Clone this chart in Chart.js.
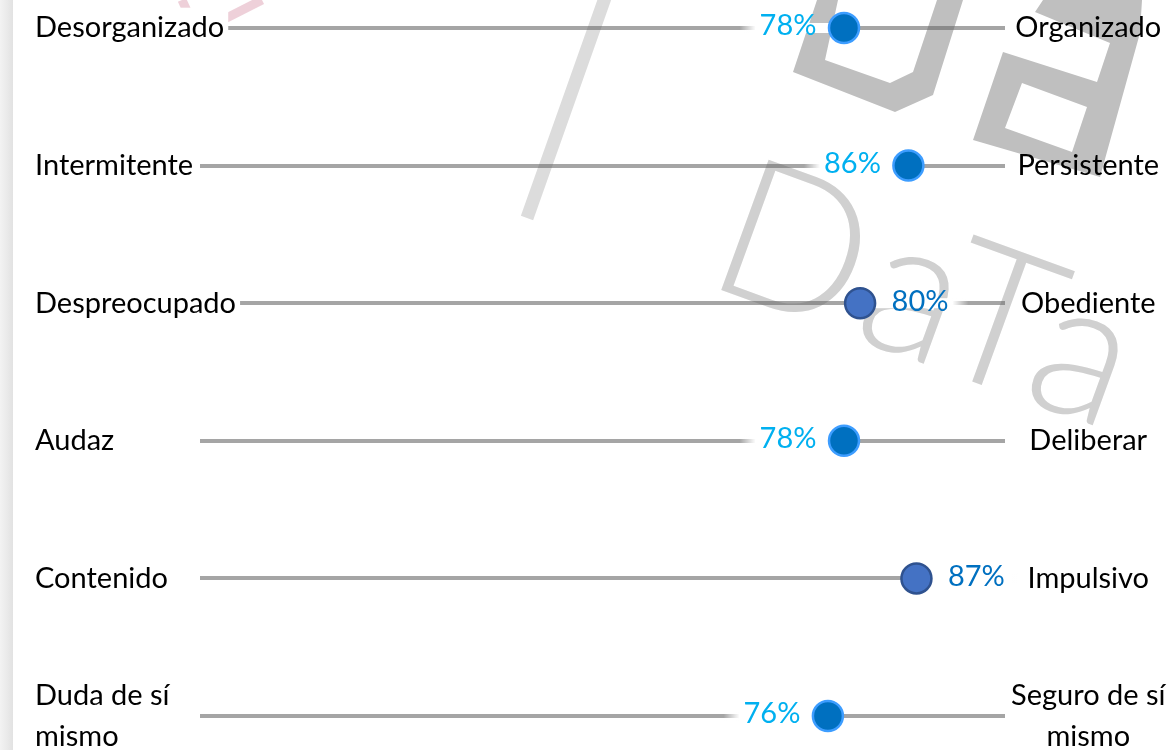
<!DOCTYPE html>
<html>
<head>
<meta charset="utf-8">
<script src="https://cdn.jsdelivr.net/npm/chart.js@4/dist/chart.umd.min.js"></script>
<style>
  html, body { margin: 0; padding: 0; background: #ffffff; overflow: hidden; }
  #wrap { position: relative; width: 1167px; height: 750px; }
  canvas { display: block; }
</style>
</head>
<body>
<div id="wrap"><canvas id="c" width="1167" height="750"></canvas></div>
<script>
// ---------------- data ----------------
const leftLabels  = ['Desorganizado', 'Intermitente', 'Despreocupado', 'Audaz', 'Contenido', ['Duda de sí', 'mismo']];
const rightLabels = ['Organizado', 'Persistente', 'Obediente', 'Deliberar', 'Impulsivo', ['Seguro de sí', 'mismo']];
const values      = [78, 86, 80, 78, 87, 76];

// ---------------- styles ----------------
const labelSide   = ['left', 'left', 'right', 'left', 'right', 'left'];
const dotTheme    = ['light', 'light', 'dark', 'light', 'dark', 'light'];
const THEMES = {
  light: { fill: '#0070C0', border: '#3D9DFF', text: '#00B0F0' },
  dark:  { fill: '#4472C4', border: '#2F528F', text: '#0070C0' }
};
const X_MIN = -2, X_MAX = 98;
const FONT = 'Lato, "Open Sans", sans-serif';
const FONT_SIZE = 29;
const LINE_COLOR = 'rgba(100,100,100,0.58)';

// ---------------- watermark / background ----------------
function poly(ctx, pts) {
  pts.forEach((p, i) => i ? ctx.lineTo(p[0], p[1]) : ctx.moveTo(p[0], p[1]));
  ctx.closePath();
}
const backgroundPlugin = {
  id: 'bg',
  beforeDraw(chart) {
    const ctx = chart.ctx;
    ctx.save();
    // left grey strip
    const g = ctx.createLinearGradient(0, 0, 13, 0);
    g.addColorStop(0, '#f3f3f3');
    g.addColorStop(1, '#e2e2e2');
    ctx.fillStyle = g;
    ctx.fillRect(0, 0, 13, chart.height);

    // pink strokes
    ctx.strokeStyle = 'rgba(205,120,145,0.35)';
    ctx.lineWidth = 9;
    [[182, 0], [262, 0]].forEach(p => {
      ctx.beginPath(); ctx.moveTo(197, 33); ctx.lineTo(p[0], p[1]); ctx.stroke();
    });

    // light slash
    ctx.strokeStyle = '#dcdcdc';
    ctx.lineWidth = 13;
    ctx.beginPath(); ctx.moveTo(606, -5); ctx.lineTo(527, 218); ctx.stroke();

    // block "D"
    ctx.fillStyle = '#bfbfbf';
    ctx.beginPath();
    poly(ctx, [[817,0],[793,72],[895,112],[933,95],[963,0]]);
    poly(ctx, [[937,0],[913,72],[890,83],[825,60],[838,0]]);
    ctx.fill('evenodd');

    // block "a"
    ctx.beginPath();
    poly(ctx, [[1043,0],[1142,0],[1140,33],[1100,177],[973,140],[1003,52],[1097,82],[1110,43],[1035,12]]);
    poly(ctx, [[1022,83],[1087,107],[1072,152],[1005,128]]);
    ctx.fill('evenodd');

    // thin "DaTa"
    ctx.translate(702, 283);
    ctx.rotate(20 * Math.PI / 180);
    ctx.font = '300 196px Lato, "Open Sans", sans-serif';
    try { ctx.letterSpacing = '10px'; } catch (e) {}
    ctx.fillStyle = '#d0d0d0';
    ctx.textBaseline = 'alphabetic';
    ctx.textAlign = 'left';
    ctx.fillText('DaTa', 0, 0);
    ctx.restore();
  }
};

// ---------------- value labels ----------------
function labelGeom(chart, pt, i) {
  const ctx = chart.ctx;
  ctx.font = FONT_SIZE + 'px ' + FONT;
  const txt = values[i] + '%';
  const w = ctx.measureText(txt).width;
  const r = pt.options.radius + pt.options.borderWidth;
  if (labelSide[i] === 'left') {
    const right = pt.x - r - 10;
    return { txt, left: right - w, right, w };
  } else {
    const left = pt.x + r + 14;
    return { txt, left, right: left + w, w };
  }
}

const valueLabelPlugin = {
  id: 'valueLabels',
  beforeDatasetsDraw(chart) {
    const ctx = chart.ctx;
    const meta = chart.getDatasetMeta(0);
    ctx.save();
    meta.data.forEach((pt, i) => {
      const g = labelGeom(chart, pt, i);
      const fade = 16;
      let x0, x1;
      if (labelSide[i] === 'left') { x0 = g.left - fade - 4; x1 = pt.x; }
      else { x0 = pt.x; x1 = g.right + fade + 4; }
      const grad = ctx.createLinearGradient(x0, 0, x1, 0);
      const f = fade / (x1 - x0);
      if (labelSide[i] === 'left') {
        grad.addColorStop(0, 'rgba(255,255,255,0)');
        grad.addColorStop(f, 'rgba(255,255,255,1)');
        grad.addColorStop(1 - 12 / (x1 - x0), 'rgba(255,255,255,1)');
        grad.addColorStop(1, 'rgba(255,255,255,0.6)');
      } else {
        grad.addColorStop(0, 'rgba(255,255,255,0.6)');
        grad.addColorStop(12 / (x1 - x0), 'rgba(255,255,255,1)');
        grad.addColorStop(1 - f, 'rgba(255,255,255,1)');
        grad.addColorStop(1, 'rgba(255,255,255,0)');
      }
      ctx.fillStyle = grad;
      ctx.fillRect(x0, pt.y - 5, x1 - x0, 10);
    });
    ctx.restore();
  },
  afterDatasetsDraw(chart) {
    const ctx = chart.ctx;
    const meta = chart.getDatasetMeta(0);
    ctx.save();
    meta.data.forEach((pt, i) => {
      const g = labelGeom(chart, pt, i);
      ctx.font = FONT_SIZE + 'px ' + FONT;
      ctx.fillStyle = THEMES[dotTheme[i]].text;
      ctx.textAlign = 'left';
      ctx.textBaseline = 'middle';
      ctx.fillText(g.txt, g.left, pt.y - 2);
    });
    ctx.restore();
  }
};

// ---------------- chart ----------------
const LEFT_AXIS_W = 165, RIGHT_AXIS_W = 162, LEFT_PAD = 35;
new Chart(document.getElementById('c'), {
  type: 'line',
  data: {
    labels: leftLabels,
    datasets: [{
      data: values,
      xAxisID: 'x',
      yAxisID: 'y',
      showLine: false,
      clip: false,
      pointStyle: 'circle',
      pointRadius: 15,
      pointBorderWidth: 2.5,
      pointBackgroundColor: dotTheme.map(t => THEMES[t].fill),
      pointBorderColor: dotTheme.map(t => THEMES[t].border)
    }]
  },
  options: {
    indexAxis: 'y',
    responsive: false,
    animation: false,
    devicePixelRatio: 1,
    events: [],
    layout: { padding: { top: 28, bottom: 34, left: LEFT_PAD, right: 0 } },
    plugins: { legend: { display: false }, tooltip: { enabled: false } },
    scales: {
      x: { type: 'linear', min: X_MIN, max: X_MAX, display: false },
      y: {
        type: 'category',
        position: 'left',
        offset: false,
        afterFit(scale) {
          scale.width = LEFT_AXIS_W;
          scale.paddingTop = 0; scale.paddingBottom = 0;
        },
        border: { display: false },
        grid: { color: LINE_COLOR, lineWidth: 4, drawTicks: false, offset: false },
        ticks: {
          autoSkip: false,
          mirror: true,
          crossAlign: 'near',
          padding: -LEFT_AXIS_W,
          color: '#000000',
          font: { family: FONT, size: FONT_SIZE, lineHeight: 1.4 },
          showLabelBackdrop: (c) => !Array.isArray(leftLabels[c.index]),
          backdropColor: '#ffffff',
          backdropPadding: { top: 0, bottom: 0, left: 0, right: 4 }
        }
      },
      y2: {
        type: 'category',
        position: 'right',
        labels: rightLabels,
        offset: false,
        afterFit(scale) {
          scale.width = RIGHT_AXIS_W;
          scale.paddingTop = 0; scale.paddingBottom = 0;
        },
        border: { display: false },
        grid: { display: false, drawTicks: false },
        ticks: {
          autoSkip: false,
          crossAlign: 'center',
          padding: 6,
          color: '#000000',
          font: { family: FONT, size: FONT_SIZE, lineHeight: 1.4 }
        }
      }
    }
  },
  plugins: [backgroundPlugin, valueLabelPlugin]
});
</script>
</body>
</html>
